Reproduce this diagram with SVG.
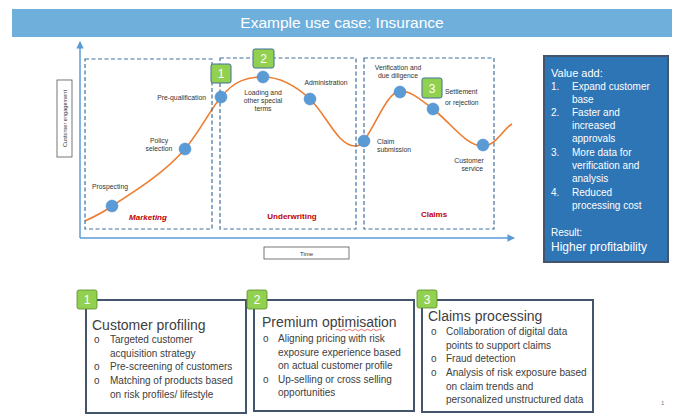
<svg xmlns="http://www.w3.org/2000/svg" width="694" height="418" viewBox="0 0 694 418">
<defs>
<marker id="ah" viewBox="0 0 8 8" refX="7" refY="4" markerWidth="5" markerHeight="5" orient="auto">
<path d="M0,0 L8,4 L0,8 z" fill="#5b9bd5"/>
</marker>
<style>
text{font-family:"Liberation Sans",Arial,sans-serif}
.lbl{font-size:6.8px;fill:#333}
.phase{font-size:8px;font-weight:bold;fill:#c00000;text-anchor:middle}
.dash{fill:none;stroke:#41719c;stroke-width:1.2;stroke-dasharray:4,2.5}
.dot{fill:#5b9bd5;stroke:#4a89c8;stroke-width:0.5}
.badge{fill:#92d050;stroke:#41719c;stroke-width:1}
.btxt{fill:#fff;font-size:12px;text-anchor:middle}
.box{fill:#fff;stroke:#44546a;stroke-width:2}
.ttl{font-size:14px;fill:#404040}
.bl{font-size:10px;fill:#404040}
.va{font-size:10px;fill:#fff}
</style>
</defs>
<rect width="694" height="418" fill="#fff"/>
<g id="title">
<rect x="12" y="9" width="660" height="28" fill="#6fafdc"/>
<text x="342" y="28" font-size="15.5" fill="#fff" text-anchor="middle">Example use case: Insurance</text>
</g>
<g id="connectors">
<line x1="80" y1="238" x2="80" y2="42" stroke="#5b9bd5" stroke-width="1.5" marker-end="url(#ah)"/>
<line x1="80" y1="238" x2="514" y2="238" stroke="#5b9bd5" stroke-width="1.5" marker-end="url(#ah)"/>
<path d="M85,221 C98,215 104,212 112,206 C140,188 165,172 185,149 C200,131 210,110 221,97 C235,80 248,77 263,77 C280,77 297,87 310,99 C328,117 338,146 355,146 C359,146 361,145 364,141 C378,120 388,92 400,91 C412,91 422,101 433,109 C452,124 466,146 483,146 C496,146 504,128 512,124" fill="none" stroke="#ed7d31" stroke-width="1.6"/>
</g>
<g id="axis-labels">
<rect x="57" y="80" width="15" height="77" fill="#fff" stroke="#555" stroke-width="0.8"/>
<text transform="translate(66.5,118.5) rotate(-90)" font-size="5.6" fill="#333" text-anchor="middle">Customer engagement</text>
<rect x="264" y="247" width="85" height="12" fill="#fff" stroke="#555" stroke-width="0.8"/>
<text x="306.5" y="255.5" font-size="6" fill="#333" text-anchor="middle">Time</text>
</g>
<g id="marketing">
<rect class="dash" x="85" y="59" width="127" height="170"/>
<text class="phase" x="148" y="220" font-style="italic">Marketing</text>
</g>
<g id="underwriting">
<rect class="dash" x="220" y="58" width="136" height="171"/>
<text class="phase" x="292" y="219">Underwriting</text>
</g>
<g id="claims">
<rect class="dash" x="364" y="58" width="130" height="171"/>
<text class="phase" x="434" y="217">Claims</text>
</g>
<g id="stage-prospecting">
<circle class="dot" cx="112" cy="206" r="6"/>
<text class="lbl" x="110" y="189" text-anchor="middle">Prospecting</text>
</g>
<g id="stage-policy">
<circle class="dot" cx="185" cy="149" r="6"/>
<text class="lbl" x="159" y="143" text-anchor="middle">Policy</text>
<text class="lbl" x="159" y="151" text-anchor="middle">selection</text>
</g>
<g id="stage-prequal">
<circle class="dot" cx="221" cy="97" r="6"/>
<text class="lbl" x="206" y="100" text-anchor="end">Pre-qualification</text>
</g>
<g id="stage-loading">
<circle class="dot" cx="263" cy="77" r="6"/>
<text class="lbl" x="263" y="95" text-anchor="middle">Loading and</text>
<text class="lbl" x="263" y="103" text-anchor="middle">other special</text>
<text class="lbl" x="263" y="111" text-anchor="middle">terms</text>
</g>
<g id="stage-admin">
<circle class="dot" cx="310" cy="99" r="6"/>
<text class="lbl" x="326" y="85" text-anchor="middle">Administration</text>
</g>
<g id="stage-claim">
<circle class="dot" cx="364" cy="141" r="6"/>
<text class="lbl" x="377" y="144">Claim</text>
<text class="lbl" x="377" y="152">submission</text>
</g>
<g id="stage-verification">
<circle class="dot" cx="400" cy="92" r="6"/>
<text class="lbl" x="398" y="70" text-anchor="middle">Verification and</text>
<text class="lbl" x="398" y="78" text-anchor="middle">due diligence</text>
</g>
<g id="stage-settlement">
<circle class="dot" cx="433" cy="109" r="6"/>
<text class="lbl" x="445" y="94">Settlement</text>
<text class="lbl" x="445" y="104.5">or rejection</text>
</g>
<g id="stage-service">
<circle class="dot" cx="483" cy="145" r="6"/>
<text class="lbl" x="469" y="163" text-anchor="middle">Customer</text>
<text class="lbl" x="483" y="171" text-anchor="end">service</text>
</g>
<g id="badge-1">
<rect class="badge" x="211" y="64" width="20" height="19" rx="2"/>
<text class="btxt" x="221" y="78">1</text>
</g>
<g id="badge-2">
<rect class="badge" x="253" y="49" width="21" height="19" rx="2"/>
<text class="btxt" x="263.5" y="63">2</text>
</g>
<g id="badge-3">
<rect class="badge" x="422" y="78" width="20" height="20" rx="2"/>
<text class="btxt" x="432" y="92.5">3</text>
</g>
<g id="value-add">
<rect x="544" y="56" width="124" height="206" fill="#2e75b6" stroke="#44546a" stroke-width="2"/>
<text x="551" y="77" font-size="11" fill="#fff">Value add:</text>
<text class="va" x="551" y="90">1.</text><text class="va" x="572" y="90">Expand customer</text>
<text class="va" x="572" y="103">base</text>
<text class="va" x="551" y="116">2.</text><text class="va" x="572" y="116">Faster and</text>
<text class="va" x="572" y="129">increased</text>
<text class="va" x="572" y="142">approvals</text>
<text class="va" x="551" y="156">3.</text><text class="va" x="572" y="156">More data for</text>
<text class="va" x="572" y="169">verification and</text>
<text class="va" x="572" y="182">analysis</text>
<text class="va" x="551" y="196">4.</text><text class="va" x="572" y="196">Reduced</text>
<text class="va" x="572" y="209">processing cost</text>
<text class="va" x="551" y="236">Result:</text>
<text x="551" y="251" font-size="12" fill="#fff">Higher profitability</text>
</g>
<g id="card-1">
<rect class="box" x="86" y="300" width="160" height="113"/>
<rect x="77" y="290" width="20" height="19" rx="2" fill="#92d050" stroke="#5b8a2a" stroke-width="0.8"/>
<text class="btxt" x="87" y="304">1</text>
<text class="ttl" x="92" y="330">Customer profiling</text>
<text class="bl" x="94" y="343">o</text><text class="bl" x="110" y="343">Targeted customer</text>
<text class="bl" x="110" y="357">acquisition strategy</text>
<text class="bl" x="94" y="370">o</text><text class="bl" x="110" y="370">Pre-screening of customers</text>
<text class="bl" x="94" y="384">o</text><text class="bl" x="110" y="384">Matching of products based</text>
<text class="bl" x="110" y="398">on risk profiles/ lifestyle</text>
</g>
<g id="card-2">
<rect class="box" x="254" y="300" width="160" height="111"/>
<rect x="247" y="290" width="20" height="19" rx="2" fill="#92d050" stroke="#5b8a2a" stroke-width="0.8"/>
<text class="btxt" x="257" y="304">2</text>
<text class="ttl" x="262" y="327">Premium optimisation</text>
<path d="M336,330 q1.5,-1.5 3,0 t3,0 t3,0 t3,0 t3,0 t3,0 t3,0 t3,0 t3,0 t3,0 t3,0 t3,0 t3,0 t3,0 t3,0" fill="none" stroke="#e03030" stroke-width="0.7"/>
<text class="bl" x="263" y="342">o</text><text class="bl" x="278" y="342">Aligning pricing with risk</text>
<text class="bl" x="278" y="356">exposure experience based</text>
<text class="bl" x="278" y="369">on actual customer profile</text>
<text class="bl" x="263" y="383">o</text><text class="bl" x="278" y="383">Up-selling or cross selling</text>
<text class="bl" x="278" y="396">opportunities</text>
</g>
<g id="card-3">
<rect class="box" x="422" y="300" width="171" height="112"/>
<rect x="417" y="290" width="20" height="18" rx="2" fill="#92d050" stroke="#5b8a2a" stroke-width="0.8"/>
<text class="btxt" x="427" y="303.5">3</text>
<text class="ttl" x="428" y="321">Claims processing</text>
<text class="bl" x="431" y="335">o</text><text class="bl" x="446" y="335">Collaboration of digital data</text>
<text class="bl" x="446" y="349">points to support claims</text>
<text class="bl" x="431" y="362">o</text><text class="bl" x="446" y="362">Fraud detection</text>
<text class="bl" x="431" y="376">o</text><text class="bl" x="446" y="376">Analysis of risk exposure based</text>
<text class="bl" x="446" y="390">on claim trends and</text>
<text class="bl" x="446" y="403">personalized unstructured data</text>
</g>
<text x="661" y="405" font-size="6" fill="#777">1</text>
</svg>
